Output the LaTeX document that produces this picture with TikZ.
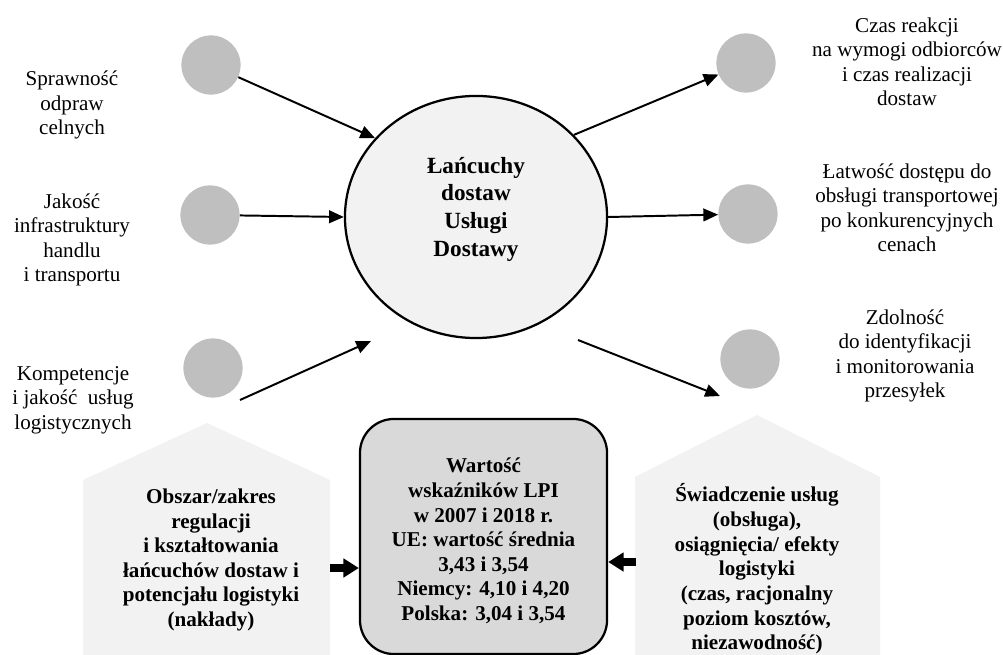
\documentclass[tikz,border=0pt]{standalone}
\usepackage{fontspec}
\setmainfont{Liberation Serif}
\usepackage{tikz}
\usetikzlibrary{shapes, arrows.meta, positioning}

\tikzset{
  dot/.style={circle,fill=black!25,minimum size=1.48cm,inner sep=0pt},
  hubnode/.style={ellipse,draw=black,line width=1.6pt,fill=black!5,
    minimum width=6.55cm,minimum height=6.05cm},
  hubtext/.style={align=center,font=\fontsize{16.5pt}{19.7pt}\selectfont\bfseries},
  factor/.style={align=center,font=\fontsize{15pt}{17.4pt}\selectfont},
  boldlabel/.style={align=center,font=\fontsize{15pt}{17.5pt}\selectfont\bfseries},
  flow/.style={line width=1.4pt,-{Triangle[length=10.5pt,width=9pt]}},
  blockarrow/.style={line width=5pt,-{Triangle[length=11pt,width=13pt]}},
  house/.style={fill=black!5}
}

\begin{document}
\begin{tikzpicture}[x=0.025cm,y=-0.025cm]
        \useasboundingbox (0,0) rectangle (1003,655);
        % houses at the bottom
        \fill[house] (83,655) -- (83,480) -- (207,423) -- (330,480) -- (330,655) -- cycle;
        \fill[house] (635,655) -- (635,477) -- (757,415) -- (880,477) -- (880,655) -- cycle;

        \node[hubnode] (hub) at (476,217) {};
        \node[hubtext] (hubtxt) at (476,209) {Łańcuchy\\dostaw\\Usługi\\Dostawy};

        \begin{scope}[every node/.style={dot}]
          \node (l1) at (211,65) {};
          \node (l2) at (210,215) {};
          \node (l3) at (213,368) {};
          \node (r1) at (746,63) {};
          \node (r2) at (748,214) {};
          \node (r3) at (750,359) {};
        \end{scope}

        \node[factor] (l1txt) at (72,105) {Sprawność\\odpraw\\celnych};
        \node[factor] (l2txt) at (72,240) {Jakość\\infrastruktury\\handlu\\i transportu};
        \node[factor] (l3txt) at (73,400) {Kompetencje\\i jakość \ usług\\logistycznych};
        \node[factor] (r1txt) at (907,62) {Czas reakcji\\na wymogi odbiorców\\i czas realizacji\\dostaw};
        \node[factor] (r2txt) at (907,208) {Łatwość dostępu do\\obsługi transportowej\\po konkurencyjnych\\cenach};
        \node[factor] (r3txt) at (905,356) {Zdolność\\do identyfikacji\\i monitorowania\\przesyłek};

        \node[draw=black,line width=1.6pt,fill=black!15,rounded corners=0.85cm,
          minimum width=6.175cm,minimum height=5.875cm] (lpi) at (483.5,536.5) {};
        \node[boldlabel] (lpitxt) at (483.5,541) {Wartość\\wskaźników LPI\\w 2007 i 2018 r.\\UE: wartość średnia\\3,43 i 3,54\\Niemcy: 4,10 i 4,20\\Polska: 3,04 i 3,54};

        \node[boldlabel] (inputs) at (211,560) {Obszar/zakres\\regulacji\\i kształtowania\\łańcuchów dostaw i\\potencjału logistyki\\(nakłady)};
        \node[boldlabel] (outputs) at (757,569) {Świadczenie usług\\(obsługa),\\osiągnięcia/ efekty\\logistyki\\(czas, racjonalny\\poziom kosztów,\\niezawodność)};

        \coordinate (l3tail) at (240,400);
        \coordinate (l3head) at (371,341);
        \coordinate (r3tail) at (578,340);
        \coordinate (r3head) at (720,396);
        \coordinate (lhouse) at (330,568);
        \coordinate (rhouse) at (636,562);

        \draw[flow] (l1) -- (hub.142);
        \draw[flow] (l2) -- (hub.west);
        \draw[flow] (l3tail) -- (l3head);
        \draw[flow] (hub.40) -- (r1);
        \draw[flow] (hub.east) -- (r2);
        \draw[flow] (r3tail) -- (r3head);
        \draw[blockarrow] (lhouse) -- (lhouse -| lpi.west);
        \draw[blockarrow] (rhouse) -- (rhouse -| lpi.east);
      \end{tikzpicture}
\end{document}
